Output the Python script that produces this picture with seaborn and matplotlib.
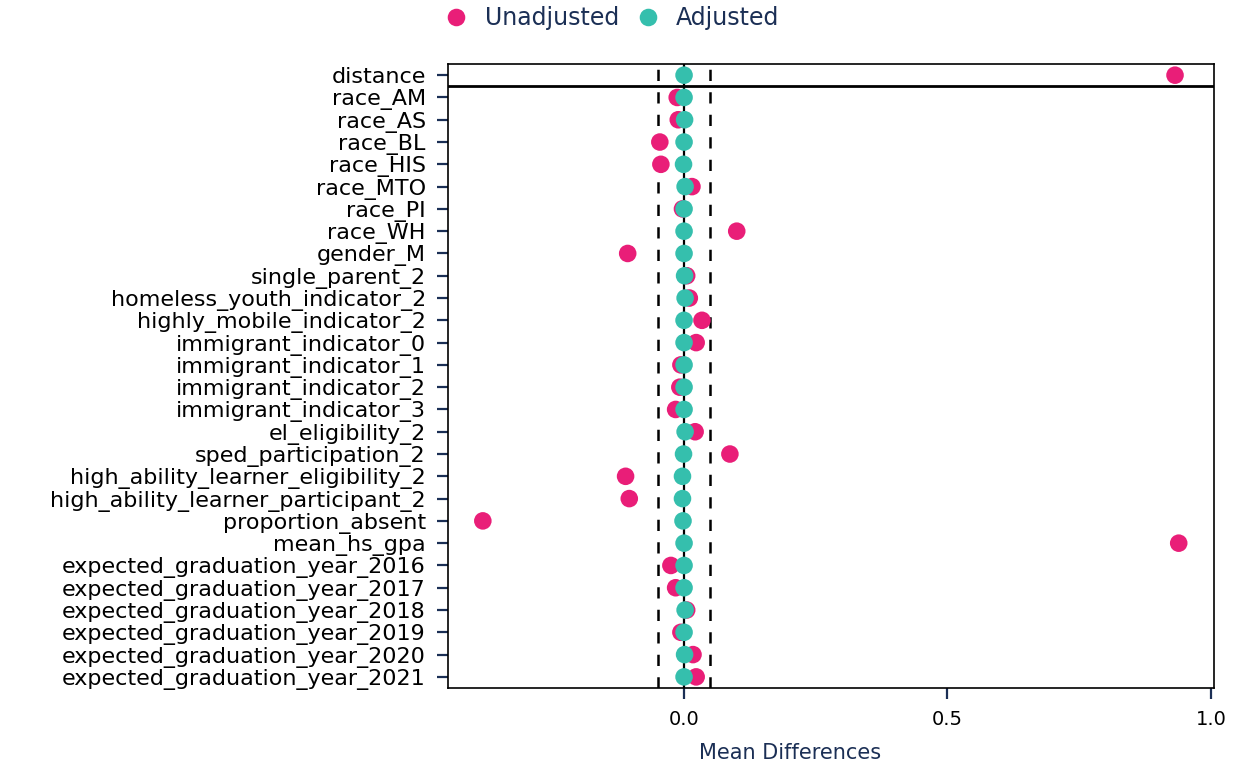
import matplotlib
matplotlib.use("Agg")
import matplotlib.pyplot as plt
import seaborn as sns
import pandas as pd

variables = [
    "distance", "race_AM", "race_AS", "race_BL", "race_HIS", "race_MTO", "race_PI",
    "race_WH", "gender_M", "single_parent_2", "homeless_youth_indicator_2",
    "highly_mobile_indicator_2", "immigrant_indicator_0", "immigrant_indicator_1",
    "immigrant_indicator_2", "immigrant_indicator_3", "el_eligibility_2",
    "sped_participation_2", "high_ability_learner_eligibility_2",
    "high_ability_learner_participant_2", "proportion_absent", "mean_hs_gpa",
    "expected_graduation_year_2016", "expected_graduation_year_2017",
    "expected_graduation_year_2018", "expected_graduation_year_2019",
    "expected_graduation_year_2020", "expected_graduation_year_2021",
]
unadjusted = [0.932, -0.013, -0.011, -0.046, -0.044, 0.015, -0.003, 0.100, -0.107,
              0.005, 0.010, 0.034, 0.023, -0.006, -0.008, -0.016, 0.021, 0.087,
              -0.111, -0.104, -0.382, 0.939, -0.025, -0.016, 0.005, -0.006, 0.017, 0.023]
adjusted = [0.000, 0.000, 0.001, 0.000, -0.001, 0.002, 0.000, 0.000, 0.000,
            0.001, 0.002, 0.000, 0.000, 0.000, 0.000, 0.000, 0.002, -0.001,
            -0.003, -0.003, -0.002, 0.000, 0.000, 0.000, 0.002, 0.000, 0.001, 0.000]
series_names = ["Unadjusted", "Adjusted"]
xticks = [0.0, 0.5, 1.0]
threshold = 0.05

df = pd.DataFrame({
    "variable": variables * 2,
    "value": unadjusted + adjusted,
    "Sample": [series_names[0]] * len(variables) + [series_names[1]] * len(variables),
})

sns.set_theme(style="white")
plt.rcParams["font.family"] = ["DejaVu Sans"]
navy = "#1B2F55"
pink = "#E91E78"
teal = "#35BFAD"

fig = plt.figure(figsize=(12.35, 7.66), dpi=100)
ax = fig.add_axes([0.3628, 0.1018, 0.6202, 0.8146])

ax.axvline(0, color="black", lw=1.6, zorder=1)
ax.axvline(-threshold, color="black", lw=1.8, ls=(0, (4.5, 4.5)), zorder=1)
ax.axvline(threshold, color="black", lw=1.8, ls=(0, (4.5, 4.5)), zorder=1)
ax.axhline(0.5, color="black", lw=2, zorder=1)

sns.scatterplot(data=df, x="value", y="variable", hue="Sample",
                palette={series_names[0]: pink, series_names[1]: teal},
                s=160, edgecolor="none", linewidth=0, alpha=1, ax=ax, zorder=3)

ax.set_ylim(len(variables) - 0.5, -0.5)
ax.set_xlim(-0.448, 1.006)
ax.set_xticks(xticks)
ax.set_xticklabels([f"{t:.1f}" for t in xticks])
ax.set_ylabel("")
ax.set_xlabel("Mean Differences", fontsize=15, color=navy)
ax.xaxis.set_label_coords(0.4465, -0.088)
ax.tick_params(axis="both", which="major", labelcolor="black",
               color=navy, length=8, width=1.6, direction="out",
               left=True, bottom=True)
ax.tick_params(axis="y", labelsize=16, pad=8)
ax.tick_params(axis="x", labelsize=14, pad=8)
for sp in ax.spines.values():
    sp.set_color("black")
    sp.set_linewidth(1.2)

sns.move_legend(ax, "center", bbox_to_anchor=(0.4927, 0.9765),
                bbox_transform=fig.transFigure, ncol=2, frameon=False,
                title=None, fontsize=17, markerscale=1.0, handlelength=1.6,
                handletextpad=0.4, columnspacing=0.43)
for t in ax.get_legend().get_texts():
    t.set_color(navy)

fig.savefig("out.png", dpi=100)
